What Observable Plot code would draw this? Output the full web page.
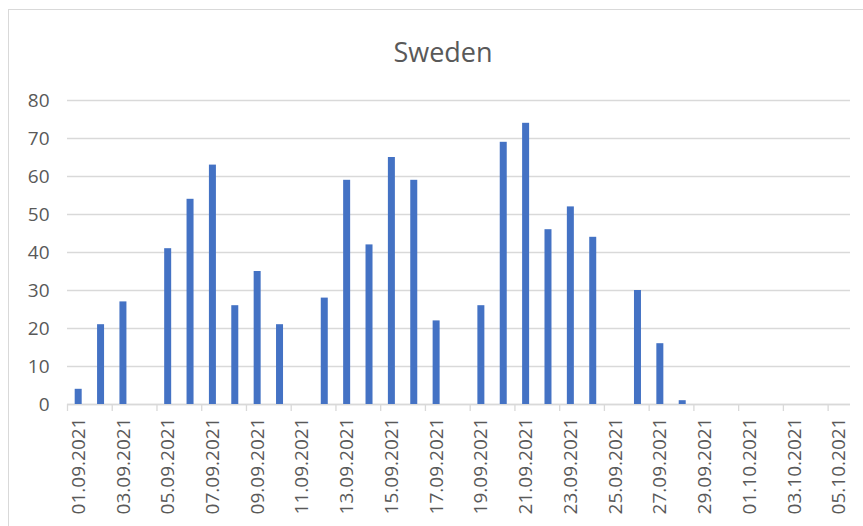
<!DOCTYPE html>
<html><head><meta charset="utf-8">
<script src="https://cdn.jsdelivr.net/npm/d3@7"></script>
<script src="https://cdn.jsdelivr.net/npm/@observablehq/plot@0.6"></script>
<style>
body{margin:0;background:#fff;}
#wrap{position:relative;width:863px;height:526px;overflow:hidden;background:#fff;}
#frame{position:absolute;left:8px;top:9px;width:900px;height:600px;border:1.5px solid #d9d9d9;box-sizing:border-box;}
#chart{position:absolute;left:0;top:0;}
</style></head><body>
<div id="wrap"><div id="frame"></div><div id="chart"></div></div>
<script>
const title = "Sweden";
const dates = ["01.09.2021","02.09.2021","03.09.2021","04.09.2021","05.09.2021","06.09.2021","07.09.2021","08.09.2021","09.09.2021","10.09.2021","11.09.2021","12.09.2021","13.09.2021","14.09.2021","15.09.2021","16.09.2021","17.09.2021","18.09.2021","19.09.2021","20.09.2021","21.09.2021","22.09.2021","23.09.2021","24.09.2021","25.09.2021","26.09.2021","27.09.2021","28.09.2021","29.09.2021","30.09.2021","01.10.2021","02.10.2021","03.10.2021","04.10.2021","05.10.2021"];
const cases = [4,21,27,0,41,54,63,26,35,21,0,28,59,42,65,59,22,0,26,69,74,46,52,44,0,30,16,1,0,0,0,0,0,0,0];
const tickLabels = ["01.09.2021","03.09.2021","05.09.2021","07.09.2021","09.09.2021","11.09.2021","13.09.2021","15.09.2021","17.09.2021","19.09.2021","21.09.2021","23.09.2021","25.09.2021","27.09.2021","29.09.2021","01.10.2021","03.10.2021","05.10.2021"];
const yTicks = [0,10,20,30,40,50,60,70,80];

const data = dates.map((d, i) => ({date: d, value: cases[i]}));
const W = 863, H = 526, mL = 67, mR = 13, mT = 100, mB = 122;
const step = (W - mL - mR) / dates.length;
const barW = 7;
const inset = (step - barW) / 2;
const textColor = "#595959";
const gridColor = "#d9d9d9";

const chart = Plot.plot({
  width: W, height: H,
  marginLeft: mL, marginRight: mR, marginTop: mT, marginBottom: mB,
  style: {fontFamily: "'Open Sans', sans-serif", fontSize: "19px", color: textColor, background: "transparent", overflow: "visible"},
  x: {type: "band", domain: dates, padding: 0, round: false, label: null},
  y: {domain: [0, 80], label: null},
  marks: [
    Plot.gridY(yTicks, {stroke: gridColor, strokeOpacity: 1, strokeWidth: 1.3}),
    Plot.ruleY([0], {stroke: gridColor, strokeWidth: 1.5}),
    Plot.axisY(yTicks, {tickSize: 0, tickPadding: 18, fill: textColor, fontSize: 19, label: null}),
    Plot.axisX(tickLabels, {tickSize: 7, stroke: gridColor, strokeWidth: 1.3, dx: -step / 2, tickFormat: () => "", label: null}),
    Plot.axisX(tickLabels, {tickSize: 0, tickRotate: -90, tickPadding: 13, fill: textColor, fontSize: 19, label: null}),
    Plot.barY(data, {x: "date", y: "value", fill: "#4472c4", insetLeft: inset, insetRight: inset}),
    Plot.text([title], {frameAnchor: "top", dx: -16, dy: -58, fontSize: 27, fill: textColor})
  ]
});
document.getElementById("chart").appendChild(chart);
</script>
</body></html>
